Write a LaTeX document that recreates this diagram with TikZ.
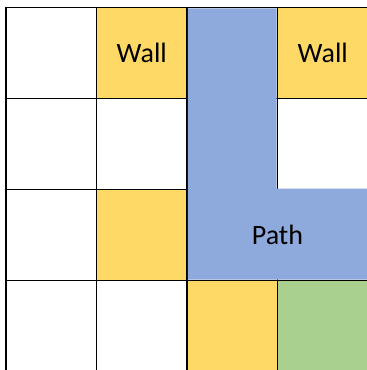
\documentclass[tikz,border=0pt]{standalone}
\usepackage{fontspec}
\setmainfont{Carlito}
\usetikzlibrary{calc}
\definecolor{wallyellow}{HTML}{FFD966}
\definecolor{pathblue}{HTML}{8EA9DB}
\definecolor{goalgreen}{HTML}{A9D08E}

\begin{document}
\begin{tikzpicture}[
    x=1pt, y=-1pt,
    font=\fontsize{28}{34}\selectfont,
    cell/.style={draw=black, line width=1.9pt, fill=white, minimum width=90.5pt, minimum height=91pt, inner sep=0pt, outer sep=0pt},
    wall/.style={cell, fill=wallyellow},
    goal/.style={cell, fill=goalgreen},
]
    \useasboundingbox (0,0) rectangle (367,370);

    % Row 1
    \node[cell] (c11) at (51.25, 53) {};
    \node[wall] (c12) at (141.75, 53) {Wall};
    \node[cell] (c13) at (232.25, 53) {};
    \node[wall] (c14) at (322.75, 53) {Wall};

    % Row 2
    \node[cell] (c21) at (51.25, 144) {};
    \node[cell] (c22) at (141.75, 144) {};
    \node[cell] (c23) at (232.25, 144) {};
    \node[cell] (c24) at (322.75, 144) {};

    % Row 3
    \node[cell] (c31) at (51.25, 235) {};
    \node[wall] (c32) at (141.75, 235) {};
    \node[cell] (c33) at (232.25, 235) {};
    \node[cell] (c34) at (322.75, 235) {};

    % Row 4
    \node[cell] (c41) at (51.25, 326) {};
    \node[cell] (c42) at (141.75, 326) {};
    \node[wall] (c43) at (232.25, 326) {};
    \node[goal] (c44) at (322.75, 326) {};

    % Path overlay
    \fill[pathblue]
        ([shift={(0.95pt,-0.95pt)}]c13.north west)
        -- ([shift={(-0.95pt,-0.95pt)}]c13.north east)
        -- ([shift={(-0.95pt,0.95pt)}]c23.south east)
        -- ([shift={(0pt,0.95pt)}]c24.south east)
        -- ([shift={(0pt,0.95pt)}]c34.south east)
        -- ([shift={(0.95pt,0.95pt)}]c33.south west)
        -- cycle;
    \node (pathlabel) at ($(c33)!0.5!(c34)$) {Path};

\end{tikzpicture}
\end{document}
